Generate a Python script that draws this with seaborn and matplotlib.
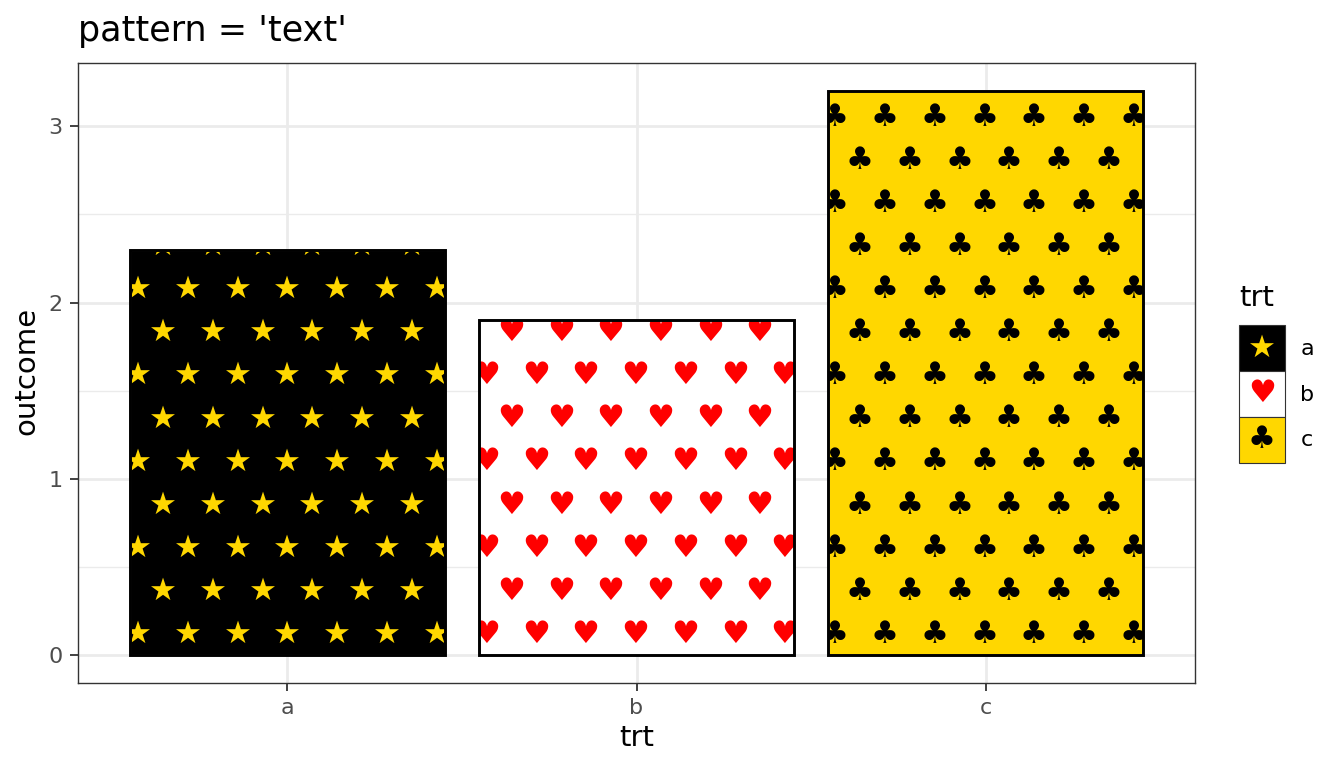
import matplotlib
matplotlib.use("Agg")
import matplotlib.pyplot as plt
from matplotlib.patches import Rectangle
from matplotlib.text import Text
import numpy as np
import pandas as pd
import seaborn as sns

trt = ["a", "b", "c"]
outcome = [2.3, 1.9, 3.2]
fills = ["#000000", "#FFFFFF", "#FFD700"]
glyph_colors = ["#FFD700", "#FF0000", "#000000"]
glyphs = ["★", "♥", "♣"]

sns.set_theme(style="white")
plt.rcParams["font.family"] = ["DejaVu Sans"]

fig = plt.figure(figsize=(13.44, 7.68), dpi=100)
W, H = 1344, 768
ax = fig.add_axes([78 / W, 1 - 683 / H, (1195 - 78) / W, (683 - 63) / H])

df = pd.DataFrame({"trt": trt, "outcome": outcome})
sns.barplot(data=df, x="trt", y="outcome", hue="trt", palette=dict(zip(trt, fills)),
            width=0.9, saturation=1, legend=False, ax=ax, zorder=2)
ax.set_xlim(-0.6, 2.6)
ax.set_ylim(-0.16, 3.36)

# Background grid (theme_bw look)
ax.set_axisbelow(True)
ax.set_yticks([0, 1, 2, 3])
ax.set_yticks([0.5, 1.5, 2.5], minor=True)
ax.grid(True, which="major", axis="both", color="#EBEBEB", lw=2.0, zorder=0)
ax.grid(True, which="minor", axis="y", color="#EBEBEB", lw=1.0, zorder=0)
ax.tick_params(axis="both", which="major", length=5.5, width=1.3, color="#333333",
               labelcolor="#4D4D4D", labelsize=16, pad=5.5, bottom=True, left=True)
ax.tick_params(axis="y", which="minor", length=0)
for s in ax.spines.values():
    s.set_visible(True)
    s.set_color("#333333")
    s.set_linewidth(1.0)

# Tiled glyph pattern, clipped to each bar
dx, dy, y0 = 0.1424, 0.2447, 0.116
glyph_nudge = [0.0, -0.003, -0.004]
GLYPH_SIZE = 22.5
for i, patch in enumerate(ax.patches[:3]):
    cx = patch.get_x() + patch.get_width() / 2 + glyph_nudge[i]
    top = patch.get_height()
    row = 0
    while y0 + row * dy < top + dy:
        y = y0 + row * dy
        if row % 2 == 0:
            offsets = np.arange(-3, 4) * dx
        else:
            offsets = (np.arange(-3, 3) + 0.5) * dx
        for off in offsets:
            t = ax.text(cx + off, y, glyphs[i], color=glyph_colors[i], fontsize=GLYPH_SIZE,
                        ha="center", va="center", zorder=3, family="DejaVu Sans")
            t.set_clip_path(patch)
            t.set_clip_on(True)
        row += 1

# Bar outlines on top of the pattern
ax.bar(range(3), outcome, width=0.9, fill=False, edgecolor="black", linewidth=2.1, zorder=4)

ax.set_xlabel("trt", fontsize=21, color="black", labelpad=4)
ax.set_ylabel("outcome", fontsize=21, color="black", labelpad=6, y=0.503)
ax.set_title("pattern = 'text'", loc="left", fontsize=25.2, color="black", pad=15.5)


class KeyHandler:
    def __init__(self, fill, glyph, color):
        self.fill, self.glyph, self.color = fill, glyph, color

    def legend_artist(self, legend, orig_handle, fontsize, handlebox):
        w, h = handlebox.width, handlebox.height
        x0, y0_ = -handlebox.xdescent, -handlebox.ydescent
        handlebox.add_artist(Rectangle((x0, y0_), w, h, facecolor=self.fill,
                                       edgecolor="#333333", linewidth=0.8))
        handlebox.add_artist(Text(x0 + w / 2, y0_ + h / 2, self.glyph, color=self.color,
                                  fontsize=GLYPH_SIZE, ha="center", va="center",
                                  family="DejaVu Sans"))
        return orig_handle


handles = [Rectangle((0, 0), 1, 1) for _ in trt]
hmap = {hd: KeyHandler(f, g, c) for hd, f, g, c in zip(handles, fills, glyphs, glyph_colors)}
leg = fig.legend(handles, trt, handler_map=hmap, title="trt", frameon=False,
                 loc="upper left", bbox_to_anchor=(1239 / W, 1 - 284 / H), bbox_transform=fig.transFigure,
                 fontsize=16, title_fontsize=21, alignment="left",
                 handlelength=2.06, handleheight=2.8, labelspacing=0.0,
                 handletextpad=0.7, borderpad=0, borderaxespad=0, labelcolor="black")
leg.get_title().set_color("black")
leg._legend_box.sep = 9.4

fig.savefig("out.png", dpi=100)
